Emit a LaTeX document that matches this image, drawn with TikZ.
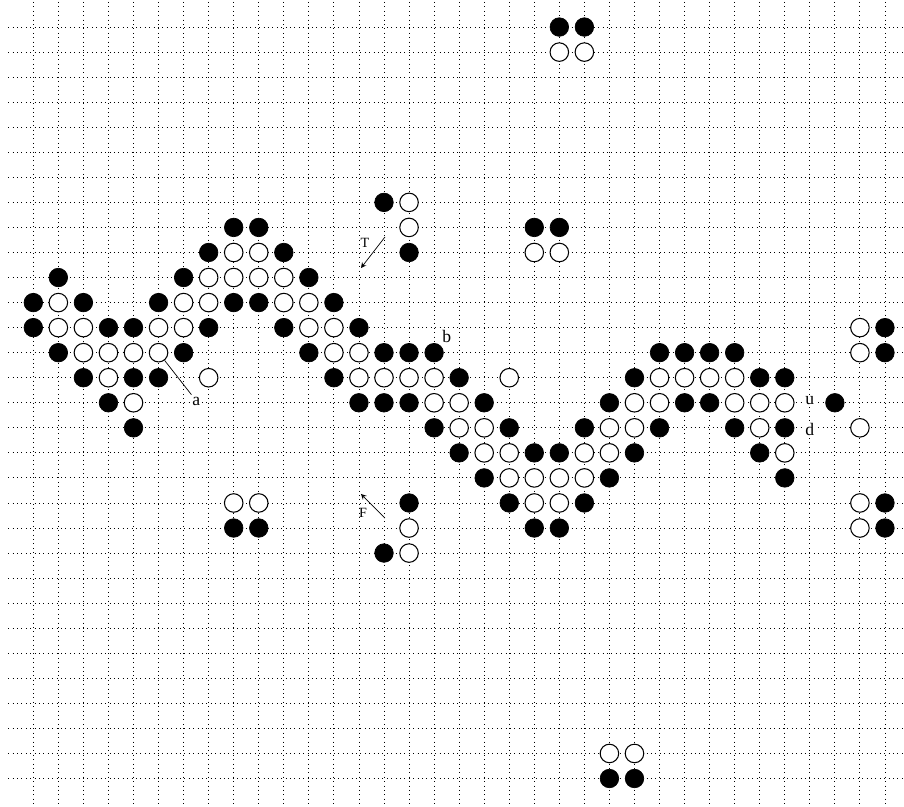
\documentclass[tikz,border=0pt]{standalone}
\usepackage{fontspec}
\setmainfont{Liberation Serif}
\begin{document}
\begin{tikzpicture}[x=0.5cm,y=-0.5cm,
  gridline/.style={dotted,line width=0.5pt},
  blk/.style={circle,draw,fill=black,minimum size=0.37cm,inner sep=0pt},
  wht/.style={circle,draw,fill=white,line width=0.6pt,minimum size=0.37cm,inner sep=0pt},
  lbl/.style={fill=white,inner sep=1pt},
  smalllbl/.style={font=\footnotesize,inner sep=0.5pt}]
\useasboundingbox (-1.33,-1.08) rectangle (34.76,31.10);
\foreach \r in {0,...,30} \draw[gridline] (-1,\r) -- (34.76,\r);
\foreach \c in {0,...,34} \draw[gridline] (\c,-1) -- (\c,31.10);
\foreach \r/\cols in {0/{21,22},7/{14},8/{8,9,20,21},9/{7,10,15},10/{1,6,11},
  11/{0,2,5,8,9,12},12/{0,3,4,7,10,13,34},13/{1,6,11,14,15,16,25,26,27,28,34},
  14/{2,4,5,12,17,24,29,30},15/{3,13,14,15,18,23,26,27,32},
  16/{4,16,19,22,25,28,30},17/{17,20,21,24,29},18/{18,23,30},
  19/{15,19,22,34},20/{8,9,20,21,34},21/{14},30/{23,24}}
  {\foreach \c in \cols {\node[blk] (s\c-\r) at (\c,\r) {};}}
\foreach \r/\cols in {1/{21,22},7/{15},8/{15},9/{8,9,20,21},10/{7,8,9,10},
  11/{1,6,7,10,11},12/{1,2,5,6,11,12,33},13/{2,3,4,5,12,13,33},
  14/{3,7,13,14,15,16,19,25,26,27,28},15/{4,16,17,24,25,28,29,30},
  16/{17,18,23,24,29,33},17/{18,19,22,23,30},18/{19,20,21,22},
  19/{8,9,20,21,33},20/{15,33},21/{15},29/{23,24}}
  {\foreach \c in \cols {\node[wht] (s\c-\r) at (\c,\r) {};}}
\node[lbl] (la) at (6.51,14.93) {a};
\node[lbl] (lb) at (16.51,12.36) {b};
\node[lbl] (lu) at (31,14.92) {u};
\node[lbl] (ld) at (31,16.08) {d};
\node[smalllbl] (lT) at (13.24,8.62) {T};
\node[smalllbl] (lF) at (13.16,19.40) {F};
\draw (s5-13) -- (la);
\coordinate (Ttail) at (14.04,8.38);
\coordinate (Thead) at (13.08,9.62);
\draw[-stealth] (Ttail) -- (Thead);
\coordinate (Ftail) at (14.04,19.60);
\coordinate (Fhead) at (13.08,18.64);
\draw[-stealth] (Ftail) -- (Fhead);
\end{tikzpicture}
\end{document}
